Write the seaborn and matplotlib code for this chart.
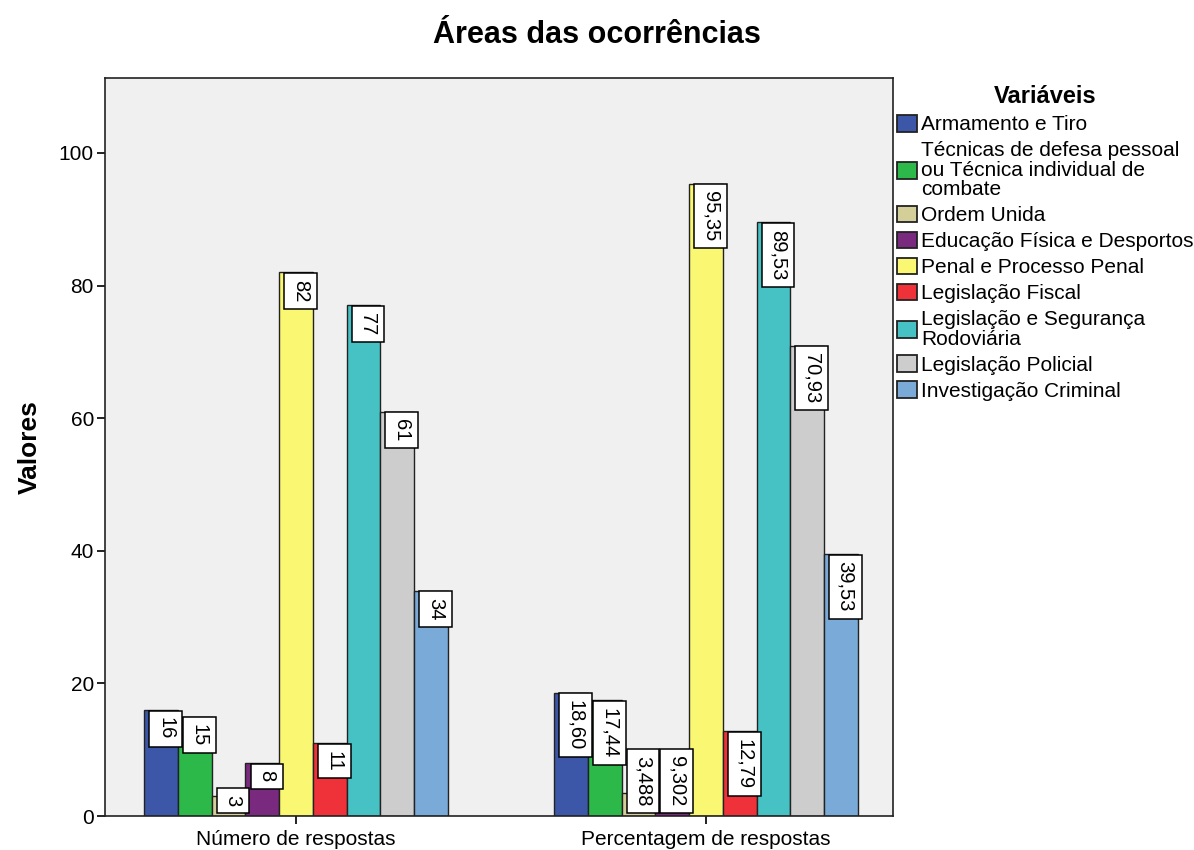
import numpy as np
import pandas as pd
import matplotlib
matplotlib.use("Agg")
import matplotlib.pyplot as plt
import seaborn as sns

# Data
groups = ["Número de respostas", "Percentagem de respostas"]
areas = [
    "Armamento e Tiro",
    "Técnicas de defesa pessoal\nou Técnica individual de\ncombate",
    "Ordem Unida",
    "Educação Física e Desportos",
    "Penal e Processo Penal",
    "Legislação Fiscal",
    "Legislação e Segurança\nRodoviária",
    "Legislação Policial",
    "Investigação Criminal",
]
n_respostas = [16, 15, 3, 8, 82, 11, 77, 61, 34]
pct_respostas = [18.60, 17.44, 3.488, 9.302, 95.35, 12.79, 89.53, 70.93, 39.53]
colors = ["#3C57A8", "#2DB84A", "#D4CF98", "#79297E", "#FAF772",
          "#EF3139", "#47C2C4", "#CDCDCD", "#7AAAD7"]

df = pd.DataFrame({
    "grupo": [groups[0]] * len(areas) + [groups[1]] * len(areas),
    "area": areas * 2,
    "valor": n_respostas + pct_respostas,
})

sns.set_theme(style="white")
plt.rcParams["font.family"] = ["Liberation Sans", "DejaVu Sans"]
plt.rcParams["text.color"] = "black"
plt.rcParams["axes.labelcolor"] = "black"
plt.rcParams["xtick.color"] = "black"
plt.rcParams["ytick.color"] = "black"

fig = plt.figure(figsize=(11.94, 8.5), dpi=100)
ax = fig.add_axes([105 / 1194, 34 / 850, 788 / 1194, 738 / 850])
ax.set_facecolor("#F0F0F0")

sns.barplot(data=df, x="grupo", y="valor", hue="area", hue_order=areas,
            palette=colors, width=0.74, gap=0, edgecolor="#222222",
            linewidth=1.0, saturation=1, ax=ax, legend=True)

ax.set_xlim(-0.466, 1.456)
ax.set_ylim(0, 111.3)
ax.set_yticks([0, 20, 40, 60, 80, 100])
ax.tick_params(axis="x", pad=4)
ax.tick_params(axis="y", pad=2)
ax.tick_params(axis="both", which="major", labelsize=15, length=6,
               width=1.4, color="#222222", left=True, bottom=True,
               direction="out")
ax.set_xlabel("")
ax.set_ylabel("Valores", fontsize=19, fontweight="bold", labelpad=12)
for s in ax.spines.values():
    s.set_color("#222222")
    s.set_linewidth(1.2)

fig.suptitle("Áreas das ocorrências", fontsize=22, fontweight="bold",
             x=0.5, y=0.977)


def fmt(v):
    ndig = len(str(int(abs(v))))
    dec = max(0, 4 - ndig)
    return f"{v:.{dec}f}".replace(".", ",")


# Value labels: rotated boxes hanging from the top of each bar
LBL_SIZE = 14.5
LBL_PAD = 0.34
labels = []
for container, name in zip(ax.containers, areas):
    for bar, grp in zip(container.patches, groups):
        v = df[(df.area == name) & (df.grupo == grp)].valor.iloc[0]
        txt = str(int(v)) if grp == groups[0] else fmt(v)
        x = bar.get_x() + bar.get_width() / 2 + 0.011
        t = ax.annotate(txt, xy=(x, v), xytext=(0, -LBL_PAD * LBL_SIZE - 0.5),
                        textcoords="offset points", rotation=270,
                        ha="center", va="top", fontsize=LBL_SIZE,
                        color="black",
                        bbox=dict(boxstyle=f"square,pad={LBL_PAD}",
                                  fc="white", ec="black", lw=1.1),
                        zorder=5)
        labels.append((t, x))

fig.canvas.draw()
renderer = fig.canvas.get_renderer()
y0_px = ax.transData.transform((0, 0))[1]
for t, x in labels:
    bb = t.get_bbox_patch().get_window_extent(renderer)
    if bb.y0 < y0_px + 2:
        t.xy = (x, 0)
        t.set_va("bottom")
        t.set_position((0, LBL_PAD * LBL_SIZE + 2))

# Legend to the right of the plot
handles, lbls = ax.get_legend_handles_labels()
leg = ax.legend(handles, lbls, title="Variáveis", loc="upper left",
                bbox_to_anchor=(897 / 1194, 1 - 85 / 850),
                bbox_transform=fig.transFigure, frameon=False, fontsize=15,
                title_fontproperties={"weight": "bold", "size": 17},
                handlelength=0.95, handleheight=0.85, handletextpad=0.2,
                labelspacing=0.31, borderaxespad=0, borderpad=0)
for h in leg.legend_handles:
    h.set_edgecolor("#222222")
    h.set_linewidth(1.3)
for t in leg.get_texts():
    t.set_linespacing(1.05)
leg._legend_box.align = "center"
leg._legend_box.sep = 5

fig.savefig("out.png", dpi=100)
